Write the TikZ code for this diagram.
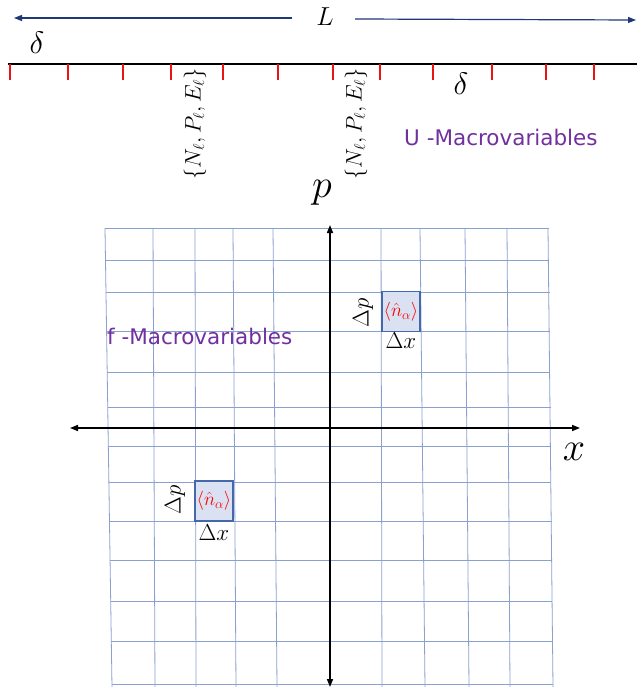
\RequirePackage{fix-cm}
\documentclass[tikz,border=0pt]{standalone}
\usepackage{fontspec}
\usepackage{tikz}
\usetikzlibrary{arrows.meta,positioning}
\newfontfamily\macrofont{DejaVu Sans}
\definecolor{navyarrow}{RGB}{31,56,120}
\definecolor{gridblue}{RGB}{138,160,206}
\definecolor{cellfill}{RGB}{217,225,242}
\definecolor{cellline}{RGB}{68,104,170}
\definecolor{macropurple}{RGB}{112,48,160}
\definecolor{tickred}{RGB}{235,20,20}
\newcommand\FS[1]{\fontsize{#1}{#1}\selectfont}
\newcommand\GridTop{228}
\newcommand\GridBot{687}
\tikzset{
  gridline/.style={
    draw = gridblue,
    line width = 0.8pt
  },
  cell/.style={
    shape = rectangle,
    draw = cellline,
    fill = cellfill,
    line width = 1.2pt,
    minimum width = 38pt,
    minimum height = 40pt,
    inner sep = 0pt,
    text = red,
    font = \FS{19}
  },
  axis/.style={
    line width = 1.5pt,
    {Triangle[length=8pt,width=6pt]}-{Triangle[length=8pt,width=6pt]}
  },
  lenarrow/.style={
    draw = navyarrow,
    line width = 1.2pt,
    -{Triangle[length=8pt,width=6pt]}
  },
  macro/.style={
    anchor = west,
    inner sep = 0pt,
    text = macropurple,
    font = \macrofont\FS{21.5}
  },
  tick/.style={
    draw = tickred,
    line width = 1.5pt
  },
  macrolbl/.style={
    rotate = 90,
    inner sep = 0pt,
    font = \FS{22.5}
  },
  deltalbl/.style={
    inner sep = 0pt,
    font = \FS{23}
  }
}

\begin{document}
\begin{tikzpicture}[x=1pt,y=-1pt]
\useasboundingbox (0,0) rectangle (637,687);

% system length L
\node[font=\FS{26}, inner sep=0pt] (Lbl) at (325,17) {$L$};
\coordinate (lA) at (292,18);
\coordinate (lB) at (14,18);
\coordinate (rA) at (355,19);
\coordinate (rB) at (636,20);
\draw[lenarrow] (lA) -- (lB);
\draw[lenarrow] (rA) -- (rB);

% cells of size delta
\coordinate (cL) at (8,64);
\coordinate (cR) at (637,64);
\draw[line width=2pt] (cL) -- (cR);
\foreach \t in {10,68,123,171,223,278,333,380,433,492,546,594}
  \draw[tick] (\t,64) -- (\t,80);

\node[font=\FS{31}, inner sep=0pt] (dA) at (37,43) {$\delta$};
\node[font=\FS{31}, inner sep=0pt] (dB) at (461,84) {$\delta$};

\node[macrolbl] (cellA) at (195,124) {$\{N_\ell, P_\ell, E_\ell\}$};
\node[macrolbl] (cellB) at (356,124) {$\{N_\ell, P_\ell, E_\ell\}$};

\node[macro] (macU) at (404,137) {U -Macrovariables};

% phase space grid
\foreach \a/\b in {105/112,153/155,195/196,233/236,273/277,381/382,420/425,465/469,507/510,548/553}
  \draw[gridline] (\a,\GridTop) -- (\b,\GridBot);
\foreach \y in {228,260,292,331,372,407,446,482,521,560,601,641,684}
  \draw[gridline] ({105+7*(\y-228)/459},\y) -- ({549+4*(\y-228)/459},\y);

\coordinate (xL) at (70,428);
\coordinate (xR) at (580,428);
\coordinate (pT) at (330,225);
\coordinate (pB) at (330,687);
\draw[axis] (xL) -- (xR);
\draw[axis] (pB) -- (pT);

\node[font=\FS{40}, inner sep=0pt] (xlbl) at (574,452) {$x$};
\node[font=\FS{40}, inner sep=0pt] (plbl) at (322,193) {$p$};

\node[macro] (macF) at (107,336) {f -Macrovariables};

% occupation cells
\node[cell] (boxA) at (401,311.5) {$\langle\hat n_\alpha\rangle$};
\node[deltalbl, rotate=90] (dpA) at (363,313) {$\Delta p$};
\node[deltalbl] (dxA) at (401,341) {$\Delta x$};

\node[cell] (boxB) at (214,501) {$\langle\hat n_\alpha\rangle$};
\node[deltalbl, rotate=90] (dpB) at (175,500) {$\Delta p$};
\node[deltalbl] (dxB) at (214,533) {$\Delta x$};
\end{tikzpicture}
\end{document}
